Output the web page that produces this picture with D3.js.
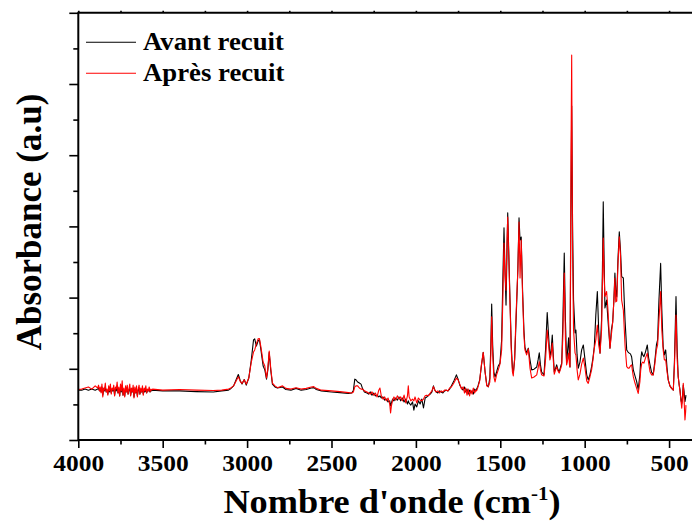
<!DOCTYPE html>
<html>
<head>
<meta charset="utf-8">
<script src="https://cdn.jsdelivr.net/npm/d3@7"></script>
<style>
  body { margin: 0; background: #fff; }
  svg text { font-family: "Liberation Serif", "Times New Roman", serif; font-weight: bold; fill: #000; }
</style>
</head>
<body>
<svg id="chart" width="692" height="521"></svg>
<script>
// FTIR spectra, wavenumber (cm-1) grid shared by both samples
const wavenumbers = [
  4000,3980,3960,3940,3920,3900,
  3885,3880,3875,3870,3865,3860,3855,3850,3845,3840,3835,3830,3825,3820,3815,3810,3805,3800,3795,3790,3785,3780,3775,3770,3765,3760,3755,3750,3745,3740,3735,3730,3725,3720,3715,3710,3705,3700,3695,3690,3685,3680,3675,3670,3665,3660,3655,3650,3645,3640,3635,3630,3625,3620,3615,3610,3605,3600,3595,3590,3585,3580,3575,3570,3565,3560,
  3500,3400,3300,3200,3150,3110,3100,3080,3065,3052,3040,3030,3017,3005,2990,
  2975,2962,2955,2945,2935,2927,2918,2905,2895,2885,2877,2869,2860,2850,2835,2820,
  2790,2770,2740,2710,2680,2650,2620,2605,2590,2560,2500,2450,2400,2380,
  2370,2362,2355,2345,2335,2325,2315,2305,2290,
  2280,2270,2260,2250,2240,2230,2220,2213,2205,2195,2185,2175,2165,2155,2150,2145,2138,2130,2120,2110,
  2100,2090,2080,2070,2060,2050,2045,2040,2030,2020,2012,2005,1995,1985,1975,1965,1955,1945,1935,1925,
  1915,1905,1896,1888,1880,1870,1860,1850,1840,1830,1820,1810,1800,1790,1775,1760,1750,1740,1730,1720,
  1712,1705,1697,1690,1682,1675,1667,1660,1652,1645,1640,1632,1622,1612,1601,1590,1580,1571,1562,1556,
  1551,1545,1538,1531,1522,1512,1502,1492,1485,1478,1472,1466,1461,1456,1450,1443,1435,1428,1423,1415,
  1407,1396,1389,1383,1376,1368,1360,1354,1344,1334,1324,1314,1300,1284,1276,1269,1262,1255,1241,1232,
  1222,1214,1206,1199,1192,1186,1180,1172,1166,1158,1151,1143,1136,1129,1121,1114,1107,1101,1095,1090,
  1087,1081,1077,1072,1066,1057,1052,1045,1038,1028,1018,1008,998,988,979,969,959,951,943,934,
  925,917,909,900,895,890,885,880,870,862,850,842,834,827,821,816,810,803,795,788,
  781,771,761,751,743,736,729,722,712,702,692,683,673,668,662,656,649,640,629,621,
  613,604,594,585,575,568,560,550,543,535,528,520,512,505,495,485,475,468,459,452,
  446,440,435,430,425,420,416,411,406,402,400
];

// Absorbance (a.u.) before annealing
const avantRecuit = [
  0.140,0.140,0.143,0.140,0.143,0.140,
  0.143,0.146,0.138,0.143,0.135,0.149,0.126,0.140,0.138,0.149,0.135,0.140,0.129,0.146,0.135,0.149,0.132,0.140,0.138,0.146,0.126,0.143,0.138,0.152,0.132,0.143,0.124,0.149,0.135,0.152,0.126,0.140,0.124,0.146,0.135,0.146,0.129,0.140,0.146,0.126,0.140,0.135,0.146,0.121,0.143,0.132,0.143,0.124,0.140,0.146,0.129,0.140,0.135,0.143,0.129,0.140,0.135,0.143,0.132,0.140,0.138,0.140,0.135,0.140,0.138,0.140,
  0.138,0.138,0.136,0.135,0.138,0.140,0.143,0.152,0.169,0.184,0.166,0.157,0.170,0.154,0.174,
  0.225,0.281,0.284,0.264,0.278,0.282,0.253,0.208,0.197,0.171,0.197,0.246,0.197,0.157,0.149,0.146,
  0.149,0.142,0.140,0.145,0.140,0.142,0.146,0.147,0.142,0.138,0.135,0.133,0.131,0.132,
  0.140,0.171,0.169,0.163,0.160,0.157,0.143,0.135,0.132,
  0.129,0.135,0.126,0.132,0.124,0.126,0.121,0.124,0.118,0.121,0.112,0.115,0.107,0.110,0.096,0.104,0.115,0.110,0.118,0.112,
  0.121,0.110,0.118,0.107,0.115,0.101,0.110,0.104,0.098,0.107,0.084,0.101,0.093,0.110,0.101,0.115,0.090,0.118,0.121,0.126,
  0.129,0.135,0.152,0.140,0.135,0.132,0.138,0.135,0.132,0.138,0.140,0.138,0.143,0.152,0.166,0.183,0.171,0.154,0.146,0.140,
  0.149,0.135,0.143,0.129,0.140,0.132,0.138,0.129,0.143,0.138,0.143,0.152,0.169,0.208,0.246,0.191,0.154,0.149,0.174,0.267,
  0.382,0.267,0.191,0.177,0.191,0.208,0.216,0.281,0.449,0.596,0.478,0.379,0.506,0.638,0.534,0.402,0.267,0.202,0.188,0.225,
  0.329,0.478,0.624,0.562,0.570,0.421,0.309,0.261,0.244,0.258,0.225,0.197,0.199,0.205,0.225,0.245,0.211,0.191,0.183,0.253,
  0.358,0.295,0.233,0.253,0.295,0.239,0.191,0.202,0.211,0.197,0.191,0.205,0.216,0.337,0.525,0.337,0.216,0.253,0.287,0.225,
  0.205,0.674,0.938,0.618,0.393,0.301,0.309,0.239,0.202,0.219,0.253,0.267,0.225,0.183,0.169,0.183,0.206,0.230,0.262,0.351,
  0.417,0.309,0.244,0.337,0.478,0.669,0.506,0.371,0.393,0.337,0.258,0.309,0.332,0.393,0.469,0.421,0.402,0.506,0.585,0.534,
  0.459,0.455,0.337,0.253,0.247,0.244,0.242,0.234,0.197,0.180,0.164,0.142,0.183,0.225,0.248,0.239,0.234,0.247,0.267,0.230,
  0.211,0.191,0.183,0.219,0.267,0.281,0.393,0.496,0.365,0.262,0.239,0.253,0.202,0.169,0.152,0.145,0.140,0.225,0.403,0.253,
  0.178,0.154,0.140,0.112,0.103,0.126,0.154,0.135,0.108,0.118,0.126
];

// Absorbance (a.u.) after annealing
const apresRecuit = [
  0.142,0.143,0.146,0.149,0.143,0.152,
  0.146,0.154,0.138,0.149,0.132,0.157,0.121,0.146,0.140,0.160,0.135,0.143,0.126,0.152,0.138,0.157,0.129,0.146,0.140,0.154,0.124,0.149,0.143,0.163,0.132,0.149,0.124,0.157,0.138,0.166,0.126,0.146,0.121,0.152,0.135,0.154,0.129,0.143,0.157,0.124,0.146,0.135,0.154,0.118,0.149,0.132,0.152,0.121,0.143,0.154,0.129,0.146,0.135,0.152,0.126,0.146,0.138,0.152,0.132,0.143,0.138,0.149,0.135,0.143,0.140,0.143,
  0.140,0.142,0.140,0.139,0.140,0.143,0.145,0.152,0.166,0.178,0.164,0.159,0.169,0.157,0.174,
  0.219,0.247,0.253,0.270,0.284,0.285,0.261,0.219,0.208,0.174,0.202,0.250,0.202,0.160,0.152,0.147,
  0.152,0.145,0.143,0.147,0.143,0.145,0.149,0.150,0.145,0.140,0.138,0.136,0.133,0.132,
  0.135,0.149,0.152,0.152,0.146,0.143,0.143,0.138,0.135,
  0.132,0.129,0.135,0.126,0.132,0.121,0.140,0.146,0.124,0.115,0.121,0.110,0.118,0.101,0.076,0.096,0.112,0.121,0.112,0.124,
  0.115,0.121,0.110,0.126,0.104,0.124,0.152,0.121,0.110,0.115,0.110,0.121,0.104,0.118,0.112,0.110,0.115,0.124,0.126,0.124,
  0.132,0.138,0.150,0.140,0.135,0.138,0.132,0.138,0.135,0.140,0.140,0.138,0.146,0.149,0.160,0.174,0.169,0.157,0.143,0.149,
  0.132,0.146,0.126,0.143,0.124,0.140,0.129,0.146,0.132,0.140,0.138,0.149,0.166,0.211,0.246,0.191,0.152,0.150,0.163,0.239,
  0.346,0.239,0.177,0.163,0.183,0.197,0.213,0.253,0.393,0.553,0.463,0.421,0.548,0.626,0.520,0.393,0.253,0.191,0.180,0.230,
  0.346,0.478,0.612,0.455,0.562,0.407,0.295,0.253,0.239,0.256,0.202,0.174,0.177,0.183,0.202,0.220,0.197,0.183,0.180,0.225,
  0.309,0.267,0.225,0.239,0.272,0.225,0.185,0.197,0.205,0.194,0.188,0.199,0.211,0.295,0.469,0.281,0.211,0.225,0.244,0.211,
  0.205,0.815,1.081,0.534,0.309,0.244,0.239,0.197,0.169,0.185,0.213,0.230,0.202,0.166,0.159,0.177,0.197,0.225,0.258,0.281,
  0.323,0.267,0.244,0.309,0.435,0.567,0.463,0.403,0.417,0.365,0.258,0.295,0.331,0.393,0.455,0.388,0.390,0.492,0.571,0.520,
  0.393,0.365,0.267,0.206,0.202,0.202,0.208,0.211,0.178,0.160,0.145,0.131,0.163,0.197,0.215,0.219,0.216,0.230,0.244,0.216,
  0.192,0.183,0.183,0.211,0.253,0.267,0.337,0.417,0.309,0.253,0.225,0.225,0.191,0.169,0.152,0.145,0.140,0.211,0.351,0.225,
  0.178,0.154,0.135,0.112,0.089,0.118,0.159,0.112,0.056,0.079,0.098
];

const seriesNames = ["Avant recuit", "Après recuit"];
const seriesColors = ["#000000", "#ff0000"];
const xMajorTicks = [4000, 3500, 3000, 2500, 2000, 1500, 1000, 500];
const xMinorTicks = [3750, 3250, 2750, 2250, 1750, 1250, 750];
const yMajorTicks = [0, 0.2, 0.4, 0.6, 0.8, 1.0, 1.2];
const yMinorTicks = [0.1, 0.3, 0.5, 0.7, 0.9, 1.1];
const xTitle = "Nombre d'onde (cm";
const yTitle = "Absorbance (a.u)";

const svg = d3.select("#chart");
const W = 692, H = 521;
const plot = { left: 78.3, top: 12.8, bottom: 440, right: 694.4 };

const x = d3.scaleLinear().domain([4000, 350]).range([plot.left, plot.right]);
const y = d3.scaleLinear().domain([0, 1.2]).range([plot.bottom, plot.top]);

svg.append("defs").append("clipPath").attr("id", "plotClip")
  .append("rect")
  .attr("x", plot.left).attr("y", plot.top)
  .attr("width", plot.right - plot.left).attr("height", plot.bottom - plot.top);

// spectra
const series = [avantRecuit, apresRecuit];
const line = d3.line().x(d => x(d[0])).y(d => y(d[1]));
const gLines = svg.append("g").attr("clip-path", "url(#plotClip)");
series.forEach((vals, i) => {
  const pts = wavenumbers.map((w, k) => [w, vals[k]]);
  gLines.append("path")
    .datum(pts)
    .attr("fill", "none")
    .attr("stroke", seriesColors[i])
    .attr("stroke-width", 1.1)
    .attr("stroke-linejoin", "round")
    .attr("d", line);
});

// axes
function styleAxis(g) {
  g.select(".domain").remove();
  g.selectAll(".tick line").attr("stroke", "#000").attr("stroke-width", 1.6);
}
const xAxisMajor = svg.append("g").attr("transform", `translate(0,${plot.bottom})`)
  .call(d3.axisBottom(x).tickValues(xMajorTicks).tickSize(8).tickPadding(6).tickFormat(d3.format("d")))
  .call(styleAxis);
xAxisMajor.selectAll(".tick text")
  .attr("font-size", 24)
  .attr("y", 0).attr("dy", 0)
  .attr("transform", "translate(0,31) scale(1.06,1)");
svg.append("g").attr("transform", `translate(0,${plot.bottom})`)
  .call(d3.axisBottom(x).tickValues(xMinorTicks).tickSize(4.5).tickFormat(""))
  .call(styleAxis);
svg.append("g").attr("transform", `translate(0,${plot.top})`)
  .call(d3.axisTop(x).tickValues(xMajorTicks.concat(xMinorTicks)).tickSize(2).tickFormat(""))
  .call(styleAxis);
svg.append("g").attr("transform", `translate(${plot.left},0)`)
  .call(d3.axisLeft(y).tickValues(yMajorTicks).tickSize(9).tickFormat(""))
  .call(styleAxis);
svg.append("g").attr("transform", `translate(${plot.left},0)`)
  .call(d3.axisLeft(y).tickValues(yMinorTicks).tickSize(5).tickFormat(""))
  .call(styleAxis);

// frame lines
const frame = svg.append("g").attr("stroke", "#000").attr("stroke-width", 2).attr("fill", "none");
frame.append("line").attr("x1", plot.left).attr("x2", W).attr("y1", plot.bottom).attr("y2", plot.bottom);
frame.append("line").attr("x1", plot.left).attr("x2", W).attr("y1", plot.top).attr("y2", plot.top);
frame.append("line").attr("x1", plot.left).attr("x2", plot.left).attr("y1", plot.top - 1).attr("y2", plot.bottom + 1);

// axis titles
const xt = svg.append("g").attr("transform", "translate(392,513) scale(1.1,1)")
  .append("text").attr("text-anchor", "middle").attr("font-size", 33);
xt.append("tspan").text(xTitle);
xt.append("tspan").attr("font-size", 19).attr("dy", -13).text("-1");
xt.append("tspan").attr("dy", 13).text(")");

svg.append("g").attr("transform", "translate(41,222) rotate(-90)")
  .append("text").attr("text-anchor", "middle").attr("font-size", 35).text(yTitle);

// legend
const legendRows = [42.3, 73.3];
seriesNames.forEach((name, i) => {
  svg.append("line")
    .attr("x1", 86).attr("x2", 136)
    .attr("y1", legendRows[i]).attr("y2", legendRows[i])
    .attr("stroke", seriesColors[i]).attr("stroke-width", 1.1);
  svg.append("g").attr("transform", `translate(143,${legendRows[i] + 8}) scale(1.07,1)`)
    .append("text").attr("font-size", 25).text(name);
});
</script>
</body>
</html>
